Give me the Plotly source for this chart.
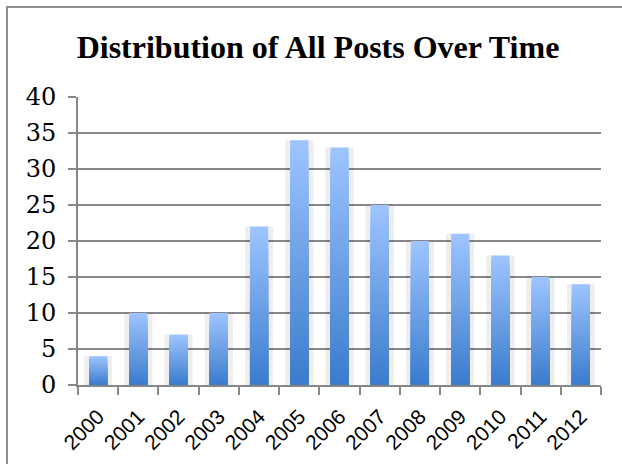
import plotly.graph_objects as go

years = ["2000", "2001", "2002", "2003", "2004", "2005", "2006",
         "2007", "2008", "2009", "2010", "2011", "2012"]
posts = [4, 10, 7, 10, 22, 34, 33, 25, 20, 21, 18, 15, 14]
y_ticks = [0, 5, 10, 15, 20, 25, 30, 35, 40]

TOP = (157, 196, 255)
BOTTOM = (60, 124, 204)
N = 40

fig = go.Figure()

# soft shadow behind bars
fig.add_trace(go.Bar(x=years, y=posts, width=0.7,
                     marker=dict(color="rgba(0,0,0,0.065)", line=dict(width=0)),
                     hoverinfo="skip", showlegend=False))

# gradient bars: overlaid bars of decreasing height, light top -> dark bottom
for k in range(N):
    frac = (N - k) / N
    t = k / (N - 1)
    c = tuple(round(TOP[i] + (BOTTOM[i] - TOP[i]) * t) for i in range(3))
    fig.add_trace(go.Bar(x=years, y=[v * frac for v in posts], width=0.45,
                         marker=dict(color="rgb(%d,%d,%d)" % c, line=dict(width=0)),
                         hoverinfo="skip" if k else None, showlegend=False))

axis_col = "#878787"
fig.update_layout(
    width=622, height=464,
    margin=dict(l=78, r=21, t=97, b=79),
    paper_bgcolor="white", plot_bgcolor="white",
    barmode="overlay",
    title=dict(text="<b>Distribution of All Posts Over Time</b>",
               x=318 / 622, xanchor="center", y=1 - 47 / 464, yanchor="middle",
               font=dict(family="Liberation Serif", size=32, color="black")),
    xaxis=dict(type="category", tickson="boundaries", ticks="outside", ticklen=8,
               tickwidth=2, tickcolor=axis_col, showline=True, linecolor=axis_col,
               linewidth=2, showgrid=False, tickangle=-45, ticklabelstandoff=9,
               automargin=False,
               tickfont=dict(family="Liberation Sans", size=21, color="black")),
    yaxis=dict(range=[0, 40], tickvals=y_ticks, ticks="outside", ticklen=8,
               tickwidth=2, tickcolor=axis_col, showline=True, linecolor=axis_col,
               linewidth=2, showgrid=True, gridcolor=axis_col, gridwidth=2,
               zeroline=False, ticklabelstandoff=7, automargin=False,
               tickfont=dict(family="DejaVu Serif", size=24, color="black")),
    shapes=[dict(type="rect", xref="paper", yref="paper",
                 x0=(7 - 78) / 523, x1=1.2, y0=-0.5, y1=(385 - 7) / 288,
                 line=dict(color="#8f8f8f", width=2), layer="below")],
)

fig.write_html("out.html")
